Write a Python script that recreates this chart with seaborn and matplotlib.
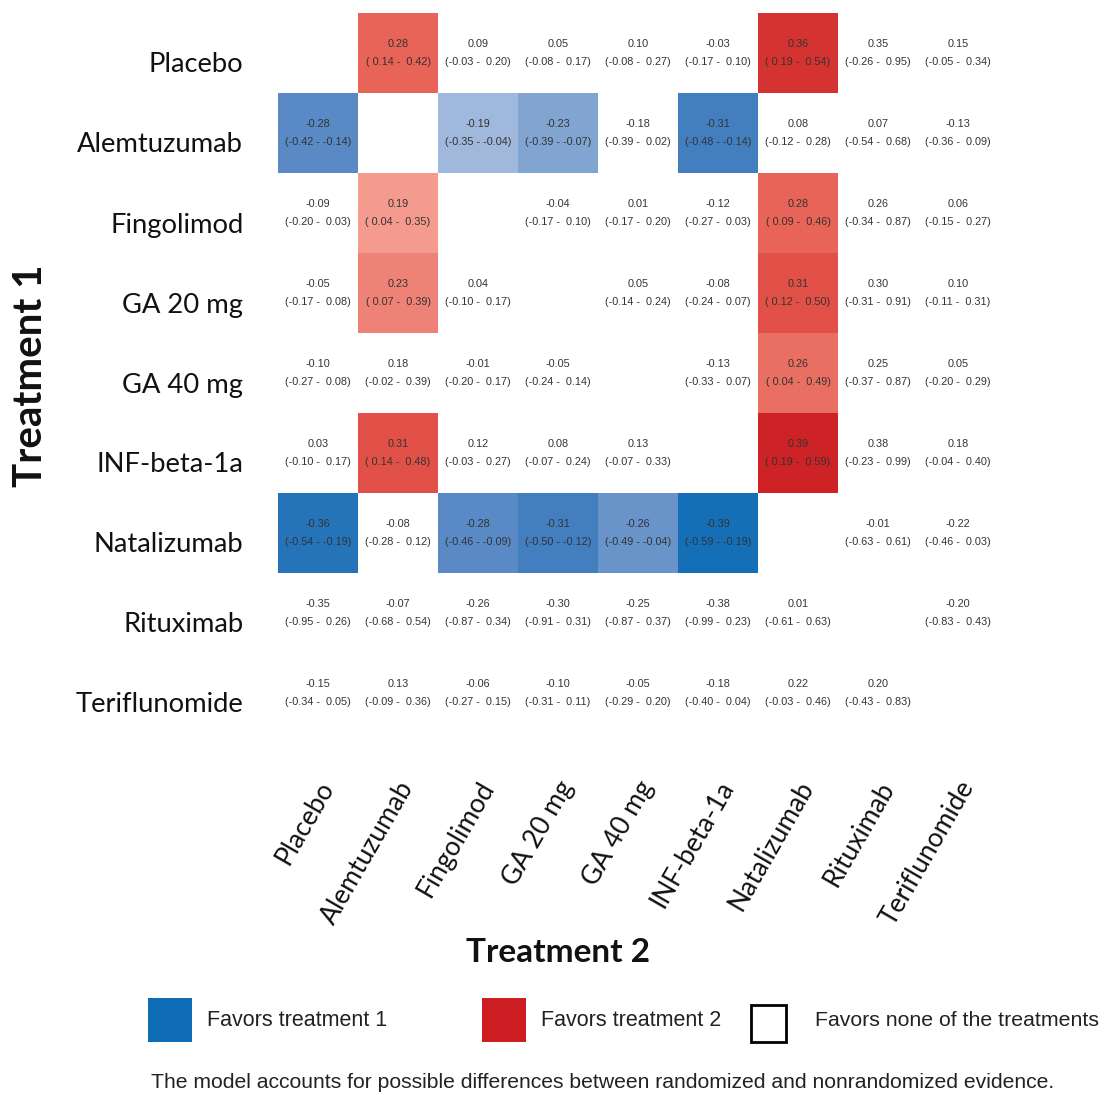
import numpy as np
import pandas as pd
import seaborn as sns
import matplotlib
matplotlib.use("Agg")
import matplotlib.pyplot as plt
from matplotlib.colors import LinearSegmentedColormap
from matplotlib.patches import Rectangle
import matplotlib.transforms as mtransforms

treatments = ["Placebo", "Alemtuzumab", "Fingolimod", "GA 20 mg", "GA 40 mg",
              "INF-beta-1a", "Natalizumab", "Rituximab", "Teriflunomide"]

N = None
mean = [
    [N, 0.28, 0.09, 0.05, 0.10, -0.03, 0.36, 0.35, 0.15],
    [-0.28, N, -0.19, -0.23, -0.18, -0.31, 0.08, 0.07, -0.13],
    [-0.09, 0.19, N, -0.04, 0.01, -0.12, 0.28, 0.26, 0.06],
    [-0.05, 0.23, 0.04, N, 0.05, -0.08, 0.31, 0.30, 0.10],
    [-0.10, 0.18, -0.01, -0.05, N, -0.13, 0.26, 0.25, 0.05],
    [0.03, 0.31, 0.12, 0.08, 0.13, N, 0.39, 0.38, 0.18],
    [-0.36, -0.08, -0.28, -0.31, -0.26, -0.39, N, -0.01, -0.22],
    [-0.35, -0.07, -0.26, -0.30, -0.25, -0.38, 0.01, N, -0.20],
    [-0.15, 0.13, -0.06, -0.10, -0.05, -0.18, 0.22, 0.20, N],
]
lower = [
    [N, 0.14, -0.03, -0.08, -0.08, -0.17, 0.19, -0.26, -0.05],
    [-0.42, N, -0.35, -0.39, -0.39, -0.48, -0.12, -0.54, -0.36],
    [-0.20, 0.04, N, -0.17, -0.17, -0.27, 0.09, -0.34, -0.15],
    [-0.17, 0.07, -0.10, N, -0.14, -0.24, 0.12, -0.31, -0.11],
    [-0.27, -0.02, -0.20, -0.24, N, -0.33, 0.04, -0.37, -0.20],
    [-0.10, 0.14, -0.03, -0.07, -0.07, N, 0.19, -0.23, -0.04],
    [-0.54, -0.28, -0.46, -0.50, -0.49, -0.59, N, -0.63, -0.46],
    [-0.95, -0.68, -0.87, -0.91, -0.87, -0.99, -0.61, N, -0.83],
    [-0.34, -0.09, -0.27, -0.31, -0.29, -0.40, -0.03, -0.43, N],
]
upper = [
    [N, 0.42, 0.20, 0.17, 0.27, 0.10, 0.54, 0.95, 0.34],
    [-0.14, N, -0.04, -0.07, 0.02, -0.14, 0.28, 0.68, 0.09],
    [0.03, 0.35, N, 0.10, 0.20, 0.03, 0.46, 0.87, 0.27],
    [0.08, 0.39, 0.17, N, 0.24, 0.07, 0.50, 0.91, 0.31],
    [0.08, 0.39, 0.17, 0.14, N, 0.07, 0.49, 0.87, 0.29],
    [0.17, 0.48, 0.27, 0.24, 0.33, N, 0.59, 0.99, 0.40],
    [-0.19, 0.12, -0.09, -0.12, -0.04, -0.19, N, 0.61, 0.03],
    [0.26, 0.54, 0.34, 0.31, 0.37, 0.23, 0.63, N, 0.43],
    [0.05, 0.36, 0.15, 0.11, 0.20, 0.04, 0.46, 0.83, N],
]

legend_labels = ["Favors treatment 1", "Favors treatment 2", "Favors none of the treatments"]
caption = "The model accounts for possible differences between randomized and nonrandomized evidence."

# ---- build matrices (non-significant cells get the neutral value 0 -> white)
n = len(treatments)
colour_vals = np.full((n, n), np.nan)
annot = np.empty((n, n), dtype=object)
for i in range(n):
    for j in range(n):
        m = mean[i][j]
        if m is None:
            annot[i, j] = ""
            continue
        lo, hi = lower[i][j], upper[i][j]
        colour_vals[i, j] = m if ((lo > 0) or (hi < 0)) else 0.0
        annot[i, j] = f"{m:.2f}\n({lo:5.2f} - {hi:5.2f})"

df = pd.DataFrame(colour_vals, index=treatments, columns=treatments)

BLUE = "#0f6db5"
RED = "#cc1d22"
cmap = LinearSegmentedColormap.from_list(
    "fav",
    [(0.0, BLUE), (0.125, "#4a80c0"), (0.25, "#9ab4d9"), (0.5, "#ffffff"),
     (0.75, "#f3958a"), (0.875, "#e5584c"), (1.0, RED)], N=257)

sns.set_theme(style="white")
plt.rcParams["font.family"] = ["Liberation Sans", "DejaVu Sans"]

fig = plt.figure(figsize=(11.04, 10.95), dpi=100)
ax = fig.add_axes([278 / 1104, 1 - 733 / 1095, 720 / 1104, 720 / 1095])
ax.set_facecolor("white")

sns.heatmap(df, cmap=cmap, vmin=-0.4, vmax=0.4, cbar=False, annot=annot, fmt="",
            annot_kws={"color": "#333333", "fontsize": 7.8, "linespacing": 1.95,
                       "family": "Liberation Sans"},
            ax=ax, square=False)

ax.set_xlabel("")
ax.set_ylabel("")
ax.tick_params(axis="both", length=0)
ax.tick_params(axis="y", pad=25)
ax.tick_params(axis="x", pad=36)
ax.set_yticklabels(treatments, rotation=0, fontsize=19.7, family="Lato", color="#111111")
ax.set_xticklabels(treatments, rotation=60, ha="right", va="center", rotation_mode="anchor",
                   fontsize=19, family="Lato", color="#111111")
for lab in ax.get_yticklabels():
    lab.set_transform(lab.get_transform() + mtransforms.ScaledTranslation(0, -12 / 100, fig.dpi_scale_trans))
for lab in ax.get_xticklabels():
    lab.set_transform(lab.get_transform() + mtransforms.ScaledTranslation(10 / 100, 0, fig.dpi_scale_trans))
for s in ax.spines.values():
    s.set_visible(False)

fig.text(31 / 1104, 1 - 376 / 1095, "Treatment 1", rotation=90, ha="center", va="center",
         fontsize=29, fontweight="bold", family="Lato", color="#111111")
fig.text(558 / 1104, 1 - 952 / 1095, "Treatment 2", ha="center", va="center",
         fontsize=24, fontweight="bold", family="Lato", color="#111111")

# legend
def fx(px):
    return px / 1104

def fy(py):
    return 1 - py / 1095

fig.patches.append(Rectangle((fx(148), fy(1042)), 44 / 1104, 44 / 1095, transform=fig.transFigure,
                             facecolor=BLUE, edgecolor="none"))
fig.patches.append(Rectangle((fx(482), fy(1042)), 44 / 1104, 44 / 1095, transform=fig.transFigure,
                             facecolor=RED, edgecolor="none"))
fig.patches.append(Rectangle((fx(751), fy(1042)), 35 / 1104, 37 / 1095, transform=fig.transFigure,
                             facecolor="white", edgecolor="black", linewidth=2))
fig.text(fx(207), fy(1021), legend_labels[0], ha="left", va="center", fontsize=15.5, color="#222222")
fig.text(fx(541), fy(1021), legend_labels[1], ha="left", va="center", fontsize=15.5, color="#222222")
fig.text(fx(815), fy(1021), legend_labels[2], ha="left", va="center", fontsize=15.3, color="#222222")
fig.text(fx(603), fy(1082), caption, ha="center", va="center", fontsize=15.2, color="#222222")

fig.savefig("out.png", dpi=100, facecolor="white")
